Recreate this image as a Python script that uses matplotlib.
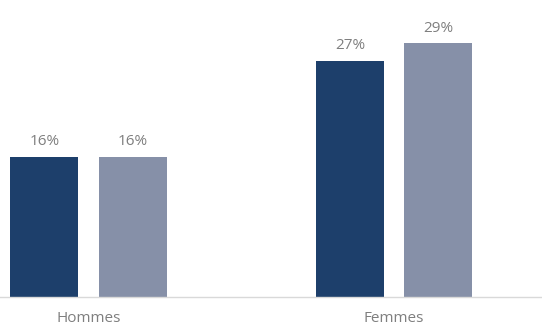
import matplotlib
matplotlib.use("Agg")
import matplotlib.pyplot as plt
import numpy as np

categories = ["Hommes", "Femmes"]
series_a = [16, 27]
series_b = [16, 29]
labels_a = ["16%", "27%"]
labels_b = ["16%", "29%"]

W, H = 542, 327
fig = plt.figure(figsize=(W / 100, H / 100), dpi=100)
ax = fig.add_axes([0, 30 / H, 1, 1 - 30 / H])

x = np.arange(len(categories))
bw = 0.222
off = 0.1445
b1 = ax.bar(x - off, series_a, bw, color="#1d3f6b")
b2 = ax.bar(x + off, series_b, bw, color="#8690a8")

for bars, labs in ((b1, labels_a), (b2, labels_b)):
    for r, lab in zip(bars, labs):
        ax.annotate(lab, (r.get_x() + r.get_width() / 2, r.get_height()),
                    xytext=(0, 5.5), textcoords="offset points",
                    ha="center", va="bottom", fontsize=11, color="#7f7f7f",
                    family="Open Sans")

ax.set_xlim(-0.2897, 1.4845)
ax.set_ylim(0, 297 / 8.75)
for s in ("top", "right", "left"):
    ax.spines[s].set_visible(False)
ax.spines["bottom"].set_color("#d9d9d9")
ax.spines["bottom"].set_linewidth(1)
ax.set_yticks([])
ax.set_xticks(x)
ax.set_xticklabels(categories, fontsize=11, color="#7f7f7f", family="Open Sans")
ax.tick_params(axis="x", length=0, pad=10)

fig.savefig("out.png", dpi=100)
